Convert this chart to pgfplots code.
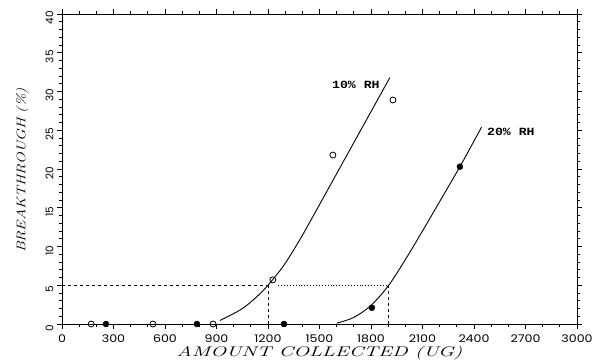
\documentclass[border=0pt]{standalone}
\usepackage{pgfplots}
\pgfplotsset{compat=1.18}
\usepackage{fontspec}
\newfontfamily\tickfont{Poppins}
\newfontfamily\monofont{Liberation Mono}
\begin{document}
\begin{tikzpicture}[x=1pt,y=1pt]
\path[use as bounding box] (-62pt,-40pt) rectangle (538pt,324pt);
\begin{axis}[
  at={(0,0)}, anchor=south west,
  scale only axis, width=515pt, height=310pt,
  xmin=0, xmax=3000, ymin=0, ymax=40,
  xtick={0,300,...,3000}, ytick={0,5,...,40},
  minor x tick num=2, minor y tick num=4,
  tick align=outside,
  major tick length=5pt, minor tick length=3pt,
  axis line style={line width=0.9pt},
  tick style={line width=0.7pt, black},
  /pgf/number format/assume math mode=true,
  /pgf/number format/1000 sep={},
  xticklabel style={font=\tickfont\fontsize{10.5}{10.5}\selectfont, yshift=-2pt},
  xticklabel={\scalebox{1.2}[1]{\pgfmathprintnumber{\tick}}},
  yticklabel style={font=\tickfont\fontsize{10.5}{10.5}\selectfont, rotate=90, anchor=south, xshift=-4pt},
  xlabel={\scalebox{1.5}[1]{\itshape AMOUNT COLLECTED (UG)}},
  ylabel={\scalebox{1.25}[1]{\itshape BREAKTHROUGH (\%)}},
  xlabel style={font=\fontsize{14}{14}\selectfont, at={(axis description cs:0.5,0)}, anchor=center, yshift=-29pt},
  ylabel style={font=\fontsize{12.5}{13}\selectfont, at={(axis description cs:0,0.495)}, anchor=south, yshift=30pt},
  clip=false,
]
% reference lines at 5%
\addplot[black, dashed, line width=0.7pt] coordinates {(0,5) (1200,5)};
\addplot[black, dotted, line width=0.9pt] coordinates {(1260,5) (1900,5)};
\addplot[black, dashed, line width=0.7pt] coordinates {(1200,0) (1200,5)};
\addplot[black, dashed, line width=0.7pt] coordinates {(1900,0) (1900,5)};
% fitted curves
\addplot[black, line width=0.9pt, smooth] coordinates {
 (920,0.45) (1037,1.8) (1114,3.1) (1192,4.8) (1290,7.5) (1386,10.9) (1480,14.6) (1600,19.4) (1750,25.4) (1910,31.8)};
\addplot[black, line width=0.9pt, smooth] coordinates {
 (1600,0.1) (1700,0.85) (1800,2.4) (1900,4.9) (2000,8.3) (2100,12.0) (2200,15.8) (2318,20.3) (2444,25.4)};
% 10% RH data (open)
\addplot[only marks, mark=o, mark size=3pt, mark options={fill=white, line width=0.8pt}] coordinates {
 (170,0) (530,0) (880,0) (1228,5.7) (1578,21.8) (1928,28.9)};
% 20% RH data (filled)
\addplot[only marks, mark=*, mark size=3pt, mark options={fill=black}] coordinates {
 (256,0) (786,0) (1293,0) (1805,2.1) (2318,20.3)};
\node[font=\monofont\bfseries\fontsize{11}{11}\selectfont] at (axis cs:1712,30.8) {\scalebox{1.2}[1]{10\% RH}};
\node[font=\monofont\bfseries\fontsize{11}{11}\selectfont] at (axis cs:2615,24.8) {\scalebox{1.2}[1]{20\% RH}};
\end{axis}
\end{tikzpicture}
\end{document}
